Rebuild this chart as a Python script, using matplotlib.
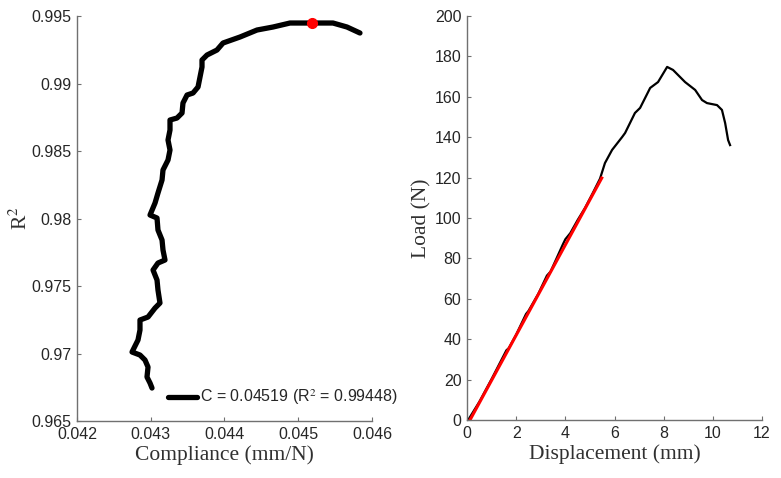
import numpy as np
import matplotlib.pyplot as plt

# compliance sweep (left) : compliance [mm/N] vs R^2
comp = [0.043017, 0.042990, 0.042949, 0.042963, 0.042922, 0.042854, 0.042746,
        0.042827, 0.042854, 0.042854, 0.042963, 0.043058, 0.043125, 0.043098,
        0.043085, 0.043031, 0.043098, 0.043193, 0.043166, 0.043153, 0.043098,
        0.043085, 0.042990, 0.043058, 0.043098, 0.043153, 0.043166, 0.043234,
        0.043261, 0.043234, 0.043261, 0.043261, 0.043356, 0.043424, 0.043437,
        0.043492, 0.043573, 0.043641, 0.043668, 0.043695, 0.043695, 0.043763,
        0.043898, 0.043980, 0.044210, 0.044441, 0.044658, 0.044888, 0.045064,
        0.045200, 0.045336, 0.045471, 0.045661, 0.045837]
r2 = [0.967444, 0.967815, 0.968259, 0.969000, 0.969519, 0.969889, 0.970111,
      0.971000, 0.971741, 0.972481, 0.972704, 0.973370, 0.973741, 0.974704,
      0.975444, 0.976185, 0.976704, 0.976926, 0.977667, 0.978407, 0.979148,
      0.980037, 0.980259, 0.981148, 0.981889, 0.982852, 0.983593, 0.984333,
      0.985074, 0.985815, 0.986556, 0.987296, 0.987444, 0.987815, 0.988556,
      0.989148, 0.989296, 0.989741, 0.990481, 0.991222, 0.991741, 0.992111,
      0.992481, 0.993000, 0.993444, 0.993963, 0.994185, 0.994481, 0.994481,
      0.994481, 0.994481, 0.994481, 0.994185, 0.993741]
best_c = 0.04519
best_r2 = 0.99448

# load-displacement curve (right)
disp = [0.07, 0.5, 1.0, 1.6, 1.7, 2.0, 2.4, 2.5, 2.9, 3.25, 3.4, 3.9, 4.0, 4.2,
        4.5, 4.8, 5.1, 5.41, 5.61, 5.90, 6.31, 6.43, 6.83, 7.04, 7.45, 7.77,
        8.14, 8.38, 8.87, 9.28, 9.56, 9.76, 10.17, 10.37, 10.50, 10.62, 10.70]
load = [0.5, 9.0, 20.3, 34.5, 35.6, 42.3, 52.5, 54.0, 62.5, 71.5, 73.5, 87.0,
        89.5, 92.5, 99.0, 105.0, 112.0, 119.5, 127.2, 133.7, 140.1, 142.1,
        152.0, 154.5, 164.4, 167.3, 174.8, 173.3, 167.3, 163.4, 158.4, 156.9,
        155.9, 153.5, 147.0, 138.6, 136.1]
fit_x = [0.12, 5.48]
fit_y = [0.0, 119.8]

xt_left = [0.042, 0.043, 0.044, 0.045, 0.046]
xt_left_lab = ['0.042', '0.043', '0.044', '0.045', '0.046']
yt_left = [0.965, 0.97, 0.975, 0.98, 0.985, 0.99, 0.995]
yt_left_lab = ['0.965', '0.97', '0.975', '0.98', '0.985', '0.99', '0.995']

plt.rcParams['font.family'] = ['Liberation Sans', 'DejaVu Sans']
plt.rcParams['mathtext.fontset'] = 'stix'

fig = plt.figure(figsize=(7.81, 4.78), dpi=100)
ax1 = fig.add_axes([0.0986, 0.1192, 0.3777, 0.8473])
ax2 = fig.add_axes([0.598, 0.1213, 0.3777, 0.8452])

spine_col = '#707070'
txt_col = '#262626'
serif = ['Liberation Serif', 'DejaVu Serif']

for ax in (ax1, ax2):
    for s in ('top', 'right'):
        ax.spines[s].set_visible(False)
    for s in ('left', 'bottom'):
        ax.spines[s].set_color(spine_col)
        ax.spines[s].set_linewidth(1.0)
    ax.tick_params(direction='in', length=3, width=0.8, color=spine_col,
                   labelsize=11.5, labelcolor=txt_col, pad=4)

# left panel
ax1.plot(comp, r2, color='black', lw=3.8, solid_capstyle='round',
         label='C = %.5f (R$^{2}$ = %.5f)' % (best_c, best_r2))
ax1.plot([best_c], [best_r2], 'o', color='red', ms=7, mec='red')
ax1.set_xlim(0.042, 0.046)
ax1.set_ylim(0.965, 0.995)
ax1.set_xticks(xt_left)
ax1.set_xticklabels(xt_left_lab)
ax1.set_yticks(yt_left)
ax1.set_yticklabels(yt_left_lab)
ax1.set_xlabel('Compliance (mm/N)', family=serif, fontsize=15.5, color='#303030', labelpad=3)
ax1.set_ylabel('R$^{2}$', family=serif, fontsize=15.5, color='#303030', labelpad=0)
leg = ax1.legend(loc='center left', bbox_to_anchor=(0.308, 0.058), frameon=False,
                 fontsize=11.5, handlelength=1.8, handletextpad=0.2, borderpad=0,
                 borderaxespad=0)
for t in leg.get_texts():
    t.set_color(txt_col)
leg.set_clip_on(False)

# right panel
ax2.plot(disp, load, color='black', lw=1.6)
ax2.plot(fit_x, fit_y, color='red', lw=2.2)
ax2.set_xlim(0, 12)
ax2.set_ylim(0, 200)
ax2.set_xticks(np.arange(0, 13, 2))
ax2.set_yticks(np.arange(0, 201, 20))
ax2.set_xlabel('Displacement (mm)', family=serif, fontsize=15.5, color='#303030', labelpad=3)
ax2.set_ylabel('Load (N)', family=serif, fontsize=15.5, color='#303030', labelpad=2)

fig.savefig('out.png', dpi=100, facecolor='w')
